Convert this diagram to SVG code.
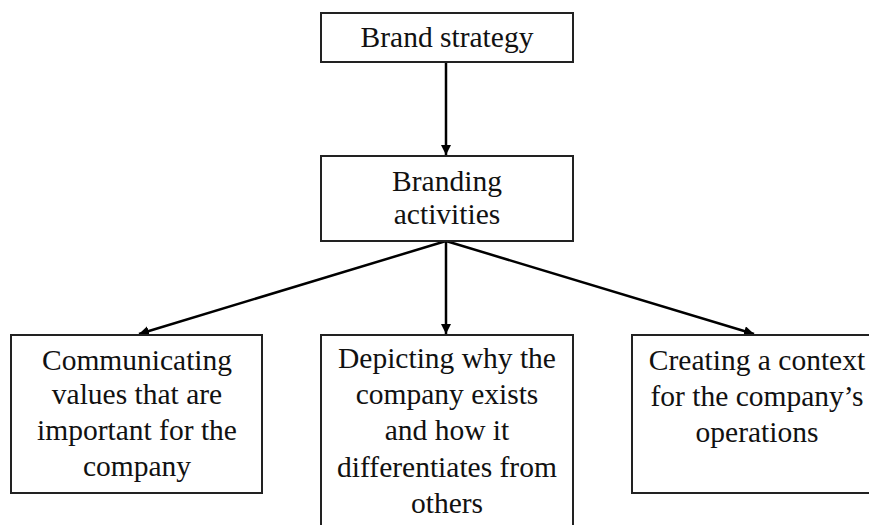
<svg xmlns="http://www.w3.org/2000/svg" width="869" height="525" viewBox="0 0 869 525">
  <style>
    .box { fill: #ffffff; stroke: #222222; stroke-width: 2; }
    .label { font-family: 'Liberation Serif', 'Times New Roman', Times, 'DejaVu Serif', serif; font-size: 29.5px; fill: #111111; text-anchor: middle; }
    .edge { stroke: #000000; stroke-width: 2.5; fill: none; marker-end: url(#arrow); }
  </style>
  <defs>
    <marker id="arrow" viewBox="0 0 10 10" refX="10" refY="5" markerWidth="4" markerHeight="4" orient="auto" markerUnits="strokeWidth">
      <path d="M0,0 L10,5 L0,10 z" fill="#000000"/>
    </marker>
  </defs>
  <rect width="869" height="525" fill="#ffffff"/>

  <g id="connectors">
    <line class="edge" x1="446" y1="62" x2="446" y2="155"/>
    <line class="edge" x1="446" y1="241" x2="139" y2="334"/>
    <line class="edge" x1="446" y1="241" x2="446" y2="334"/>
    <line class="edge" x1="446" y1="241" x2="754" y2="334"/>
  </g>

  <g id="brand-strategy">
    <rect class="box" x="321" y="13" width="252" height="49"/>
    <text class="label" x="447" y="47" font-family="Liberation Serif, serif">Brand strategy</text>
  </g>

  <g id="branding-activities">
    <rect class="box" x="321" y="156" width="252" height="85"/>
    <text class="label" x="447" y="191">Branding</text>
    <text class="label" x="447" y="224">activities</text>
  </g>

  <g id="communicating-values">
    <rect class="box" x="11" y="335" width="251" height="158"/>
    <text class="label" x="137" y="370">Communicating</text>
    <text class="label" x="137" y="404">values that are</text>
    <text class="label" x="137" y="440">important for the</text>
    <text class="label" x="137" y="476">company</text>
  </g>

  <g id="depicting-why">
    <rect class="box" x="321" y="335" width="252" height="200"/>
    <text class="label" x="447" y="368">Depicting why the</text>
    <text class="label" x="447" y="404">company exists</text>
    <text class="label" x="447" y="440">and how it</text>
    <text class="label" x="447" y="477">differentiates from</text>
    <text class="label" x="447" y="513">others</text>
  </g>

  <g id="creating-context">
    <rect class="box" x="632" y="335" width="260" height="158"/>
    <text class="label" x="757" y="370">Creating a context</text>
    <text class="label" x="757" y="406">for the company’s</text>
    <text class="label" x="757" y="442">operations</text>
  </g>
</svg>
